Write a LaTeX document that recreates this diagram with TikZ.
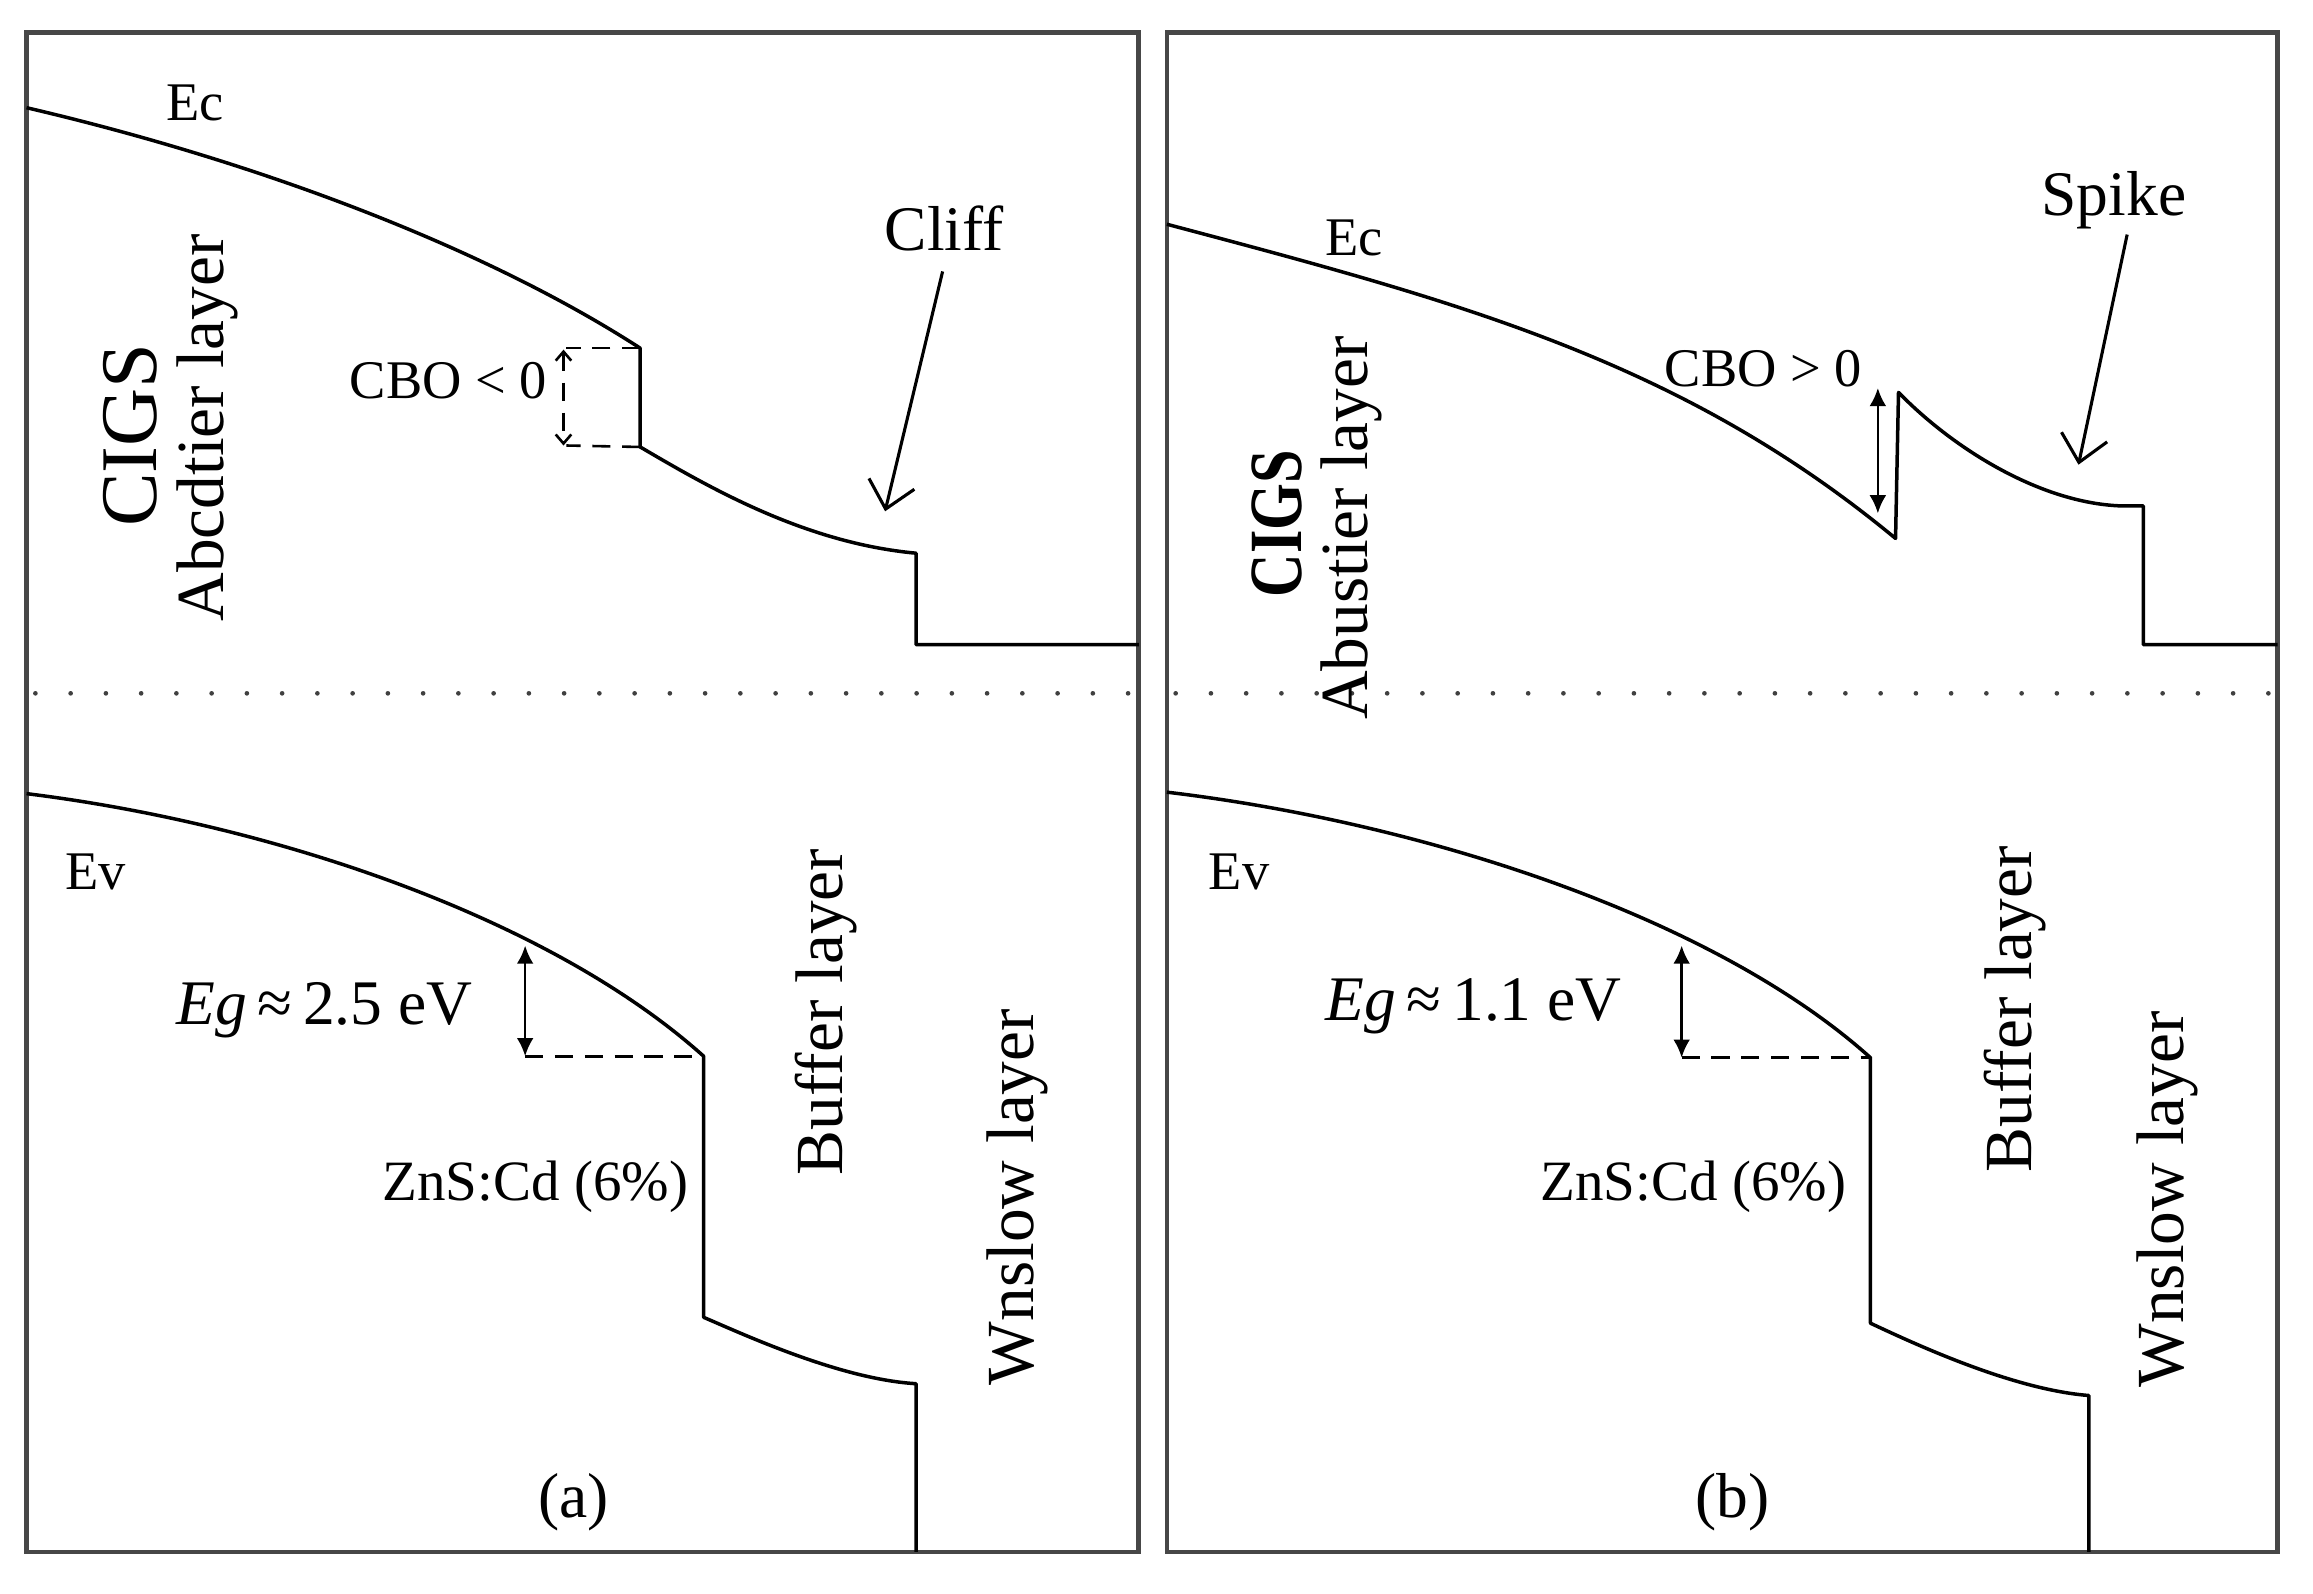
\documentclass[tikz,border=0pt]{standalone}
\usepackage{fontspec}
\setmainfont{Liberation Serif}
\usetikzlibrary{arrows.meta}
\begin{document}
\begin{tikzpicture}[x=0.02cm,y=-0.02cm,
  frame/.style={line width=1.8pt, draw=black!72},
  band/.style={line width=1.35pt, line join=round},
  dotline/.style={line width=1.8pt, line cap=round, dash pattern=on 0pt off 13.6pt, draw=black!75},
  lbl/.style={font=\fontsize{21}{25}\selectfont, inner sep=0pt, anchor=base},
  midlbl/.style={font=\fontsize{22}{26}\selectfont, inner sep=0pt, anchor=base},
  biglbl/.style={font=\fontsize{24.5}{29}\selectfont, inner sep=0pt, anchor=base},
  vlbl/.style={font=\fontsize{26}{31}\selectfont, inner sep=0pt, rotate=90},
  cigslbl/.style={font=\fontsize{31}{36}\selectfont, inner sep=0pt, rotate=90},
  cigsbold/.style={font=\bfseries\fontsize{29}{34}\selectfont, inner sep=0pt, rotate=90},
  pointer/.style={line width=1.2pt, -{Straight Barb[length=10pt,width=18pt]}},
  gaparrow/.style={line width=1pt, {Latex[length=7pt,width=6.5pt]}-{Latex[length=7pt,width=6.5pt]}},
  smallgap/.style={line width=1pt, dash pattern=on 7pt off 4.5pt, {Straight Barb[length=3.5pt,width=6pt]}-{Straight Barb[length=3.5pt,width=6pt]}},
  guide/.style={line width=1pt, dash pattern=on 7pt off 4.5pt},
]
\useasboundingbox (0,0) rectangle (1568,1080);
\fill[white] (0,0) rectangle (1568,1080);

% ---------------- panel (a) ----------------
\draw[frame] (18,22) rectangle (772,1052);
\draw[dotline] (24,470) -- (772,470);

\coordinate (aStepTop) at (434,236);
\coordinate (aStepBot) at (434,303);
\draw[band] (18,73) .. controls (168,108) and (324,165) .. (aStepTop) -- (aStepBot)
  .. controls (480,330) and (545,368) .. (621,375) -- (621,437) -- (772,437);

\coordinate (aCboTop) at (382,237);
\coordinate (aCboBot) at (382,302);
\draw[guide] (aStepTop) -- (384,236);
\draw[guide] (aStepBot) -- (384,302);
\draw[smallgap] (aCboTop) -- (aCboBot);

\coordinate (aEvCorner) at (477,716);
\draw[band] (18,538) .. controls (180,558) and (370,620) .. (aEvCorner) -- (477,893)
  .. controls (505,905) and (570,935) .. (621,938) -- (621,1052);

\coordinate (aEgTop) at (356,641);
\coordinate (aEgBot) at (356,716);
\draw[gaparrow] (aEgTop) -- (aEgBot);
\draw[guide] (aEgBot) -- (aEvCorner);

\node[lbl] (ecA) at (132,81.5) {Ec};
\node[biglbl] (cliff) at (640,170) {Cliff};
\coordinate (cliffTail) at (639,184);
\coordinate (cliffTip) at (600,346.6);
\draw[pointer] (cliffTail) -- (cliffTip);
\node[lbl] (cboA) at (304,270) {CBO < 0};
\node[cigslbl] (cigsA) at (88,295) {CIGS};
\node[vlbl] (absA) at (140.6,290) {Abcdtier layer};
\node[lbl] (evA) at (65,603) {Ev};
\node[biglbl] (egA) at (220,694.7) {\textit{Eg}\,≈\,2.5 eV};
\node[midlbl] (znsA) at (363,814) {ZnS:Cd (6\%)};
\node[vlbl] (bufA) at (560,686) {Buffer layer};
\node[vlbl] (winA) at (689.5,811.5) {Wnslow layer};
\node[biglbl] (capA) at (388.6,1028.6) {(a)};

% ---------------- panel (b) ----------------
\draw[frame] (791,22) rectangle (1544,1052);
\draw[dotline] (797,470) -- (1544,470);

\coordinate (bSpikeBot) at (1285,365);
\coordinate (bSpikeTop) at (1287,266);
\draw[band] (791,152) .. controls (991,205) and (1140,245) .. (bSpikeBot) -- (bSpikeTop)
  .. controls (1325,305) and (1385,342) .. (1440,343) -- (1453,343) -- (1453,437) -- (1544,437);

\coordinate (bCboTop) at (1273,263);
\coordinate (bCboBot) at (1273,348);
\draw[gaparrow] (bCboTop) -- (bCboBot);

\coordinate (bEvCorner) at (1268,717);
\draw[band] (791,537) .. controls (960,557) and (1160,620) .. (bEvCorner) -- (1268,897)
  .. controls (1300,912) and (1365,942) .. (1416,946) -- (1416,1052);

\coordinate (bEgTop) at (1140,641);
\coordinate (bEgBot) at (1140,717);
\draw[gaparrow] (bEgTop) -- (bEgBot);
\draw[guide] (bEgBot) -- (bEvCorner);

\node[lbl] (ecB) at (918,173) {Ec};
\node[biglbl] (spike) at (1433,145.8) {Spike};
\coordinate (spikeTail) at (1442,159);
\coordinate (spikeTip) at (1409,315);
\draw[pointer] (spikeTail) -- (spikeTip);
\node[lbl] (cboB) at (1195.4,262) {CBO > 0};
\node[cigsbold] (cigsB) at (866,355) {\scalebox{0.8}[1]{CIGS}};
\node[vlbl] (absB) at (916,358) {Abustier layer};
\node[lbl] (evB) at (840,603) {Ev};
\node[biglbl] (egB) at (999,691.5) {\textit{Eg}\,≈\,1.1 eV};
\node[midlbl] (znsB) at (1148,814) {ZnS:Cd (6\%)};
\node[vlbl] (bufB) at (1366,684) {Buffer layer};
\node[vlbl] (winB) at (1469,813) {Wnslow layer};
\node[biglbl] (capB) at (1174.6,1028.6) {(b)};
\end{tikzpicture}
\end{document}
